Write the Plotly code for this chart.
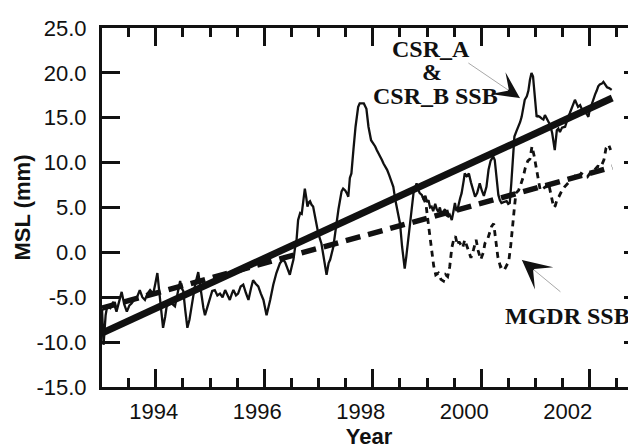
import plotly.graph_objects as go

# ---------------- data ----------------
csr_year = [1993.00, 1993.03, 1993.07, 1993.10, 1993.16, 1993.22, 1993.28, 1993.33, 1993.38, 1993.43,
            1993.48, 1993.53, 1993.57, 1993.62, 1993.67, 1993.73, 1993.78, 1993.83, 1993.88, 1993.93,
            1993.99, 1994.03, 1994.07, 1994.10, 1994.12, 1994.15, 1994.18, 1994.22, 1994.25, 1994.30,
            1994.35, 1994.41, 1994.46, 1994.51, 1994.54, 1994.57, 1994.61, 1994.65, 1994.69, 1994.73,
            1994.77, 1994.80, 1994.86, 1994.90, 1994.93, 1994.96, 1994.99, 1995.04, 1995.09, 1995.13,
            1995.18, 1995.23, 1995.28, 1995.33, 1995.38, 1995.43, 1995.47, 1995.51, 1995.54, 1995.59,
            1995.63, 1995.68, 1995.73, 1995.78, 1995.83, 1995.88, 1995.92, 1995.97, 1996.02, 1996.07,
            1996.12, 1996.18, 1996.22, 1996.25, 1996.31, 1996.37, 1996.44, 1996.50, 1996.54, 1996.57,
            1996.63, 1996.67, 1996.70, 1996.73, 1996.76, 1996.79, 1996.83, 1996.86, 1996.89, 1996.92,
            1996.95, 1996.97, 1997.00, 1997.02, 1997.05, 1997.08, 1997.13, 1997.18, 1997.24, 1997.28,
            1997.31, 1997.34, 1997.38, 1997.41, 1997.47, 1997.50, 1997.53, 1997.57, 1997.60, 1997.63,
            1997.66, 1997.70, 1997.73, 1997.76, 1997.79, 1997.82, 1997.86, 1997.90, 1997.95, 1997.98,
            1998.02, 1998.06, 1998.11, 1998.15, 1998.20, 1998.24, 1998.28, 1998.31, 1998.35, 1998.38,
            1998.41, 1998.44, 1998.48, 1998.51, 1998.55, 1998.59, 1998.63, 1998.67, 1998.70, 1998.73,
            1998.76, 1998.80, 1998.85, 1998.88, 1998.92, 1998.95, 1998.98, 1999.02, 1999.05, 1999.08,
            1999.11, 1999.14, 1999.18, 1999.21, 1999.25, 1999.28, 1999.31, 1999.34, 1999.37, 1999.40,
            1999.44, 1999.47, 1999.50, 1999.53, 1999.56, 1999.60, 1999.63, 1999.66, 1999.69, 1999.72,
            1999.76, 1999.79, 1999.82, 1999.85, 1999.88, 1999.92, 1999.95, 1999.99, 2000.01, 2000.05,
            2000.09, 2000.13, 2000.17, 2000.21, 2000.25, 2000.30, 2000.34, 2000.38, 2000.43, 2000.47,
            2000.51, 2000.56, 2000.59, 2000.63, 2000.66, 2000.69, 2000.72, 2000.76, 2000.82, 2000.85,
            2000.88, 2000.91, 2000.95, 2000.97, 2001.01, 2001.05, 2001.08, 2001.11, 2001.14, 2001.17,
            2001.21, 2001.24, 2001.27, 2001.30, 2001.33, 2001.37, 2001.40, 2001.42, 2001.46, 2001.50,
            2001.53, 2001.56, 2001.60, 2001.63, 2001.66, 2001.70, 2001.73, 2001.75, 2001.79, 2001.82,
            2001.85, 2001.89, 2001.95, 2001.98, 2002.01, 2002.04, 2002.07, 2002.11, 2002.14, 2002.17,
            2002.20, 2002.24, 2002.27, 2002.30, 2002.33, 2002.37, 2002.40, 2002.43, 2002.46, 2002.50,
            2002.53, 2002.56, 2002.59, 2002.62, 2002.66, 2002.69, 2002.72, 2002.76, 2002.80, 2002.85]

csr_mm = [-6.3, -10.3, -7.0, -6.0, -6.2, -5.5, -6.6, -5.4, -4.4, -5.8,
          -6.6, -5.9, -5.7, -5.3, -5.1, -4.2, -5.0, -5.3, -4.6, -4.2,
          -4.6, -3.5, -2.3, -4.0, -5.3, -6.8, -8.4, -7.2, -6.0, -5.8,
          -5.7, -6.0, -4.5, -3.2, -4.0, -4.3, -6.5, -8.4, -7.5, -6.0,
          -4.6, -3.6, -2.2, -4.0, -5.1, -6.2, -7.0, -6.0, -5.1, -4.3,
          -4.2, -4.8, -4.6, -5.0, -4.2, -4.9, -5.3, -4.6, -4.2, -4.8,
          -4.6, -3.8, -3.6, -4.5, -5.3, -4.0, -3.1, -3.5, -3.8, -4.6,
          -5.3, -7.0, -6.2, -5.3, -3.6, -2.3, -1.2, -0.8, -1.1, -1.6,
          -2.5, -1.5, -0.8, 0.5, 1.4, 3.6, 4.4, 4.3, 5.8, 7.1,
          6.0, 5.1, 5.6, 5.7, 5.3, 5.1, 3.6, 2.1, 1.0, -0.5,
          -1.6, -2.5, -1.2, -0.8, 0.6, 2.0, 3.2, 4.8, 5.8, 6.8,
          7.1, 6.9, 6.6, 6.2, 8.3, 8.8, 11.5, 14.0, 16.2, 16.6,
          16.6, 16.6, 16.0, 14.0, 12.5, 12.2, 11.8, 11.4, 11.0, 10.7,
          10.3, 9.9, 9.5, 9.2, 8.6, 8.0, 7.3, 5.8, 4.8, 3.8,
          3.2, 0.6, -1.8, -0.5, 1.4, 3.0, 4.7, 6.6, 7.2, 7.7,
          7.0, 6.6, 6.4, 6.0, 6.3, 5.6, 5.8, 5.0, 5.1, 4.6,
          5.4, 4.8, 4.5, 5.0, 4.3, 4.6, 4.8, 4.1, 4.0, 4.2,
          3.6, 4.5, 5.5, 4.6, 5.0, 6.0, 6.6, 8.0, 8.8, 8.5,
          8.8, 7.8, 6.9, 6.2, 6.6, 7.7, 6.9, 6.3, 7.3, 9.2,
          10.2, 10.7, 10.3, 7.7, 6.4, 5.8, 5.5, 5.6, 5.7, 5.4,
          5.5, 7.7, 11.0, 12.9, 13.5, 14.0, 14.5, 15.1, 16.2, 17.0,
          17.4, 18.0, 19.2, 20.0, 19.6, 17.4, 15.1, 15.2, 15.1, 14.9,
          14.8, 15.3, 14.8, 14.5, 14.2, 13.3, 12.0, 11.4, 13.6, 13.8,
          13.4, 13.9, 14.0, 14.6, 15.1, 15.5, 15.9, 16.5, 17.0, 16.6,
          16.2, 16.4, 16.0, 15.9, 15.7, 15.4, 15.1, 16.0, 16.4, 17.2,
          17.6, 18.0, 18.5, 18.7, 18.8, 19.0, 18.7, 18.4, 18.3, 18.1]

mgdr_year = [1999.20, 1999.26, 1999.30, 1999.33, 1999.37, 1999.41, 1999.45, 1999.50, 1999.55, 1999.60,
             1999.64, 1999.68, 1999.72, 1999.76, 1999.80, 1999.83, 1999.87, 1999.90, 1999.93, 1999.97,
             2000.01, 2000.07, 2000.13, 2000.18, 2000.23, 2000.27, 2000.32, 2000.37, 2000.40, 2000.46,
             2000.53, 2000.57, 2000.61, 2000.65, 2000.70, 2000.74, 2000.78, 2000.82, 2000.86, 2000.90,
             2000.93, 2000.97, 2001.00, 2001.05, 2001.09, 2001.14, 2001.18, 2001.23, 2001.27, 2001.31,
             2001.35, 2001.39, 2001.43, 2001.47, 2001.52, 2001.57, 2001.63, 2001.68, 2001.73, 2001.76,
             2001.79, 2001.83, 2001.88, 2001.94, 2002.00, 2002.06, 2002.10, 2002.14, 2002.20, 2002.26,
             2002.32, 2002.38, 2002.45, 2002.52, 2002.58, 2002.64, 2002.70, 2002.74, 2002.79, 2002.83]

mgdr_mm = [6.2, 5.4, 3.5, 2.0, 0.0, -1.5, -2.5, -2.3, -3.0, -3.2,
           -2.5, -2.7, -1.6, 0.5, 1.5, 1.8, 0.8, 1.2, 0.9, 0.5,
           1.4, 0.3, -0.6, 0.3, 1.4, 0.2, -0.8, 0.0, 1.0, 1.6,
           2.9, 3.2, 1.3, -0.5, -1.6, -1.5, -1.9, -1.5, -1.0, 0.8,
           3.0, 5.0, 6.6, 6.9, 7.5, 8.4, 9.4, 10.2, 10.4, 11.8,
           10.8, 9.5, 8.1, 6.9, 7.1, 7.3, 7.7, 6.4, 5.0, 5.2,
           5.8, 6.2, 6.8, 7.3, 7.7, 8.0, 8.3, 8.5, 8.2, 8.8,
           8.6, 8.4, 9.0, 9.2, 9.6, 9.5, 10.3, 11.6, 12.0, 11.4]

trend_year = [1993.0, 2002.86]
csr_trend_mm = [-9.0, 17.2]
mgdr_trend_mm = [-6.2, 9.5]

year_ticks = [1994, 1996, 1998, 2000, 2002]
year_labels = ["1994", "1996", "1998", "2000", "2002"]
msl_ticks = [25, 20, 15, 10, 5, 0, -5, -10, -15]
msl_labels = ["25.0", "20.0", "15.0", "10.0", "5.0", "0.0", "-5.0", "-10.0", "-15.0"]

# ---------------- figure ----------------
X_RANGE = [1993.0, 2003.32]
Y_RANGE = [-15, 25]
INK = "#111111"
SANS = "Liberation Sans, Arial, Helvetica, sans-serif"
SERIF = "Liberation Serif, Times New Roman, serif"

fig = go.Figure()
fig.add_trace(go.Scatter(x=trend_year, y=mgdr_trend_mm, mode="lines",
                         line=dict(color=INK, width=5.5, dash="15px,8px")))
fig.add_trace(go.Scatter(x=trend_year, y=csr_trend_mm, mode="lines",
                         line=dict(color=INK, width=7)))
fig.add_trace(go.Scatter(x=mgdr_year, y=mgdr_mm, mode="lines",
                         line=dict(color=INK, width=2.8, dash="6px,5px")))
fig.add_trace(go.Scatter(x=csr_year, y=csr_mm, mode="lines",
                         line=dict(color=INK, width=2.3)))
# carrier trace for the overlay axes (labels / right ticks)
fig.add_trace(go.Scatter(x=[None], y=[None], xaxis="x2", yaxis="y2", mode="lines",
                         hoverinfo="skip"))

# the page body adds an 8px offset, so margins are set 8px smaller on left/top
fig.update_layout(
    template="none",
    width=636, height=447,
    margin=dict(l=94, r=8, t=20, b=68, autoexpand=False),
    plot_bgcolor="white", paper_bgcolor="white",
    showlegend=False,
    xaxis=dict(range=X_RANGE, showline=True, linecolor=INK, linewidth=3, mirror="ticks",
               automargin=False,
               ticks="inside", tickmode="linear", tick0=1994.04, dtick=2.097,
               ticklen=18, tickwidth=3, tickcolor=INK, showticklabels=False,
               showgrid=False, zeroline=False,
               minor=dict(ticks="inside", tickmode="linear", tick0=1994.04, dtick=0.52425,
                          ticklen=9, tickwidth=3, tickcolor=INK, showgrid=False)),
    xaxis2=dict(range=X_RANGE, overlaying="x", anchor="y2", side="bottom", automargin=False,
                tickmode="array", tickvals=year_ticks, ticktext=year_labels,
                ticks="", showline=False, showgrid=False, zeroline=False,
                tickfont=dict(family=SANS, size=22, color=INK), ticklabelstandoff=9,
                title=dict(text="<b>Year</b>", font=dict(family=SANS, size=22, color=INK), standoff=0)),
    yaxis=dict(range=Y_RANGE, tickmode="array", tickvals=msl_ticks, ticktext=msl_labels,
               automargin=False,
               ticks="inside", ticklen=18, tickwidth=3, tickcolor=INK,
               showline=True, linecolor=INK, linewidth=3, mirror=False,
               showgrid=False, zeroline=False,
               tickfont=dict(family=SANS, size=22, color=INK), ticklabelstandoff=8,
               title=dict(text="<b>MSL (mm)</b>", font=dict(family=SANS, size=22, color=INK), standoff=0)),
    yaxis2=dict(range=Y_RANGE, overlaying="y", anchor="x2", side="right", automargin=False,
                tickmode="array", tickvals=msl_ticks, showticklabels=False,
                ticks="inside", ticklen=12, tickwidth=3, tickcolor=INK,
                showline=False, showgrid=False, zeroline=False),
)

# labels
for txt, xx, yy in [("CSR_A", 1999.36, 22.66), ("&", 1999.38, 20.1),
                    ("CSR_B SSB", 1999.44, 17.42), ("MGDR SSB", 2001.99, -7.09)]:
    fig.add_annotation(x=xx, y=yy, xref="x", yref="y", text="<b>" + txt + "</b>",
                       showarrow=False, xanchor="center", yanchor="middle",
                       font=dict(family=SERIF, size=24, color=INK))

# arrows: thin grey shaft + black barbed head
arrows = [((2001.076, 17.2), (-53, -36), 2.2), ((2001.115, -0.85), (40, 33), 2.4)]
for (tx, ty), (axp, ayp), hs in arrows:
    fig.add_annotation(x=tx, y=ty, xref="x", yref="y", text="", showarrow=True,
                       ax=axp, ay=ayp, arrowhead=0, arrowwidth=1, arrowcolor="#a8a8a8")
    L = (axp ** 2 + ayp ** 2) ** 0.5
    fig.add_annotation(x=tx, y=ty, xref="x", yref="y", text="", showarrow=True,
                       ax=axp / L * 13, ay=ayp / L * 13, arrowhead=3, arrowsize=hs,
                       arrowwidth=2, arrowcolor=INK)

fig.write_html("out.html")
